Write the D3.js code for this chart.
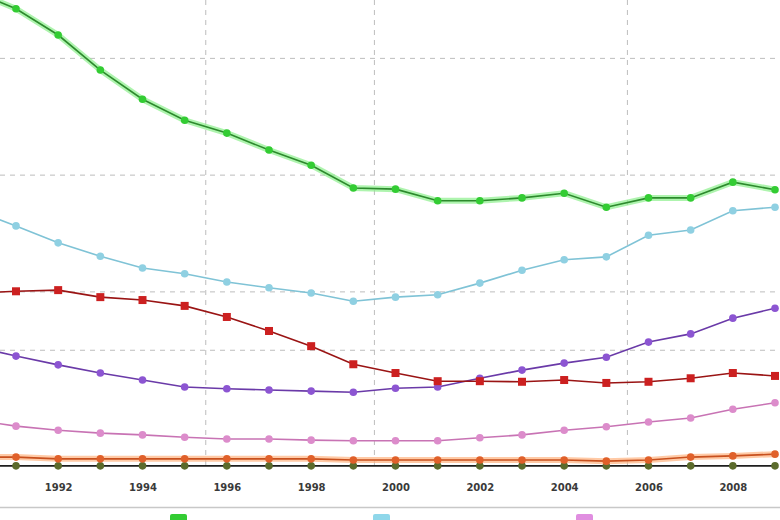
<!DOCTYPE html>
<html>
<head>
<meta charset="utf-8">
<script src="https://cdn.jsdelivr.net/npm/d3@7"></script>
<style>
  body { margin: 0; background: #fff; }
  svg { display: block; }
</style>
</head>
<body>
<svg id="chart" width="780" height="520"></svg>
<script>
// years shown (1990 sits just left of the visible frame)
var years = [1990,1991,1992,1993,1994,1995,1996,1997,1998,1999,2000,2001,2002,2003,2004,2005,2006,2007,2008,2009];

var greenVals  = [81.5,78.5,74.0,68.0,63.0,59.4,57.2,54.3,51.7,47.8,47.6,45.6,45.6,46.1,46.9,44.5,46.1,46.1,48.8,47.5];
var cyanVals   = [44.0,41.3,38.4,36.1,34.1,33.1,31.7,30.7,29.8,28.4,29.1,29.5,31.5,33.7,35.5,36.0,39.7,40.6,43.9,44.5];
var redVals    = [29.8,30.1,30.3,29.1,28.6,27.6,25.7,23.3,20.7,17.6,16.1,14.7,14.7,14.6,14.9,14.4,14.6,15.2,16.1,15.6];
var purpleVals = [20.7,19.0,17.5,16.1,14.9,13.7,13.4,13.2,13.0,12.8,13.5,13.7,15.2,16.6,17.8,18.8,21.4,22.8,25.5,27.2];
var pinkVals   = [8.1,7.0,6.3,5.8,5.5,5.1,4.8,4.8,4.6,4.5,4.5,4.5,5.0,5.5,6.3,6.9,7.7,8.4,9.9,11.0];
var orangeVals = [1.7,1.7,1.4,1.4,1.4,1.4,1.4,1.4,1.4,1.2,1.2,1.2,1.2,1.2,1.2,1.0,1.2,1.7,1.9,2.2];
var darkVals   = [0.2,0.2,0.2,0.2,0.2,0.2,0.2,0.2,0.2,0.2,0.2,0.2,0.2,0.2,0.2,0.2,0.2,0.2,0.2,0.2];

var tickYears = [1992,1994,1996,1998,2000,2002,2004,2006,2008];
var hGrid = [20,30,50,70];
var vGrid = [1995.5,1999.5,2005.5];

var series = [
  {vals: darkVals,   line: "#1e1e1e", dot: "#5b6b2c", glow: null,      shape: "circle"},
  {vals: orangeVals, line: "#c8501e", dot: "#e0602a", glow: "#ffb380", shape: "circle"},
  {vals: pinkVals,   line: "#c873b4", dot: "#dc8ccb", glow: null,      shape: "circle"},
  {vals: purpleVals, line: "#6a3aa8", dot: "#8c55d2", glow: null,      shape: "circle"},
  {vals: redVals,    line: "#9a1414", dot: "#cc2020", glow: null,      shape: "square"},
  {vals: cyanVals,   line: "#7fc3d6", dot: "#8fd0e2", glow: null,      shape: "circle"},
  {vals: greenVals,  line: "#2d8a2d", dot: "#33cc33", glow: "#8cf08c", shape: "circle"}
];

var legendColors = ["#33cc33", "#8fd7ea", "#e08ee0"];
var legendX = [170, 373, 576];

var svg = d3.select("#chart");

var x = d3.scaleLinear().domain([1991, 2009]).range([16, 775]);
var y = d3.scaleLinear().domain([0, 80]).range([467, 0]);

// grid
svg.append("g").selectAll("line").data(hGrid).enter().append("line")
  .attr("x1", 0).attr("x2", 780)
  .attr("y1", function(d){ return y(d); }).attr("y2", function(d){ return y(d); })
  .attr("stroke", "#bdbdbd").attr("stroke-dasharray", "5,5");

svg.append("g").selectAll("line").data(vGrid).enter().append("line")
  .attr("x1", function(d){ return x(d); }).attr("x2", function(d){ return x(d); })
  .attr("y1", 0).attr("y2", 467)
  .attr("stroke", "#bdbdbd").attr("stroke-dasharray", "5,5");

var lineGen = function(vals){
  return d3.line()
    .x(function(d, i){ return x(years[i]); })
    .y(function(d){ return y(d); })(vals);
};

series.forEach(function(s){
  var g = svg.append("g");
  if (s.glow) {
    g.append("path").attr("d", lineGen(s.vals))
      .attr("fill", "none").attr("stroke", s.glow)
      .attr("stroke-width", 6).attr("stroke-opacity", 0.7)
      .attr("stroke-linejoin", "round");
  }
  g.append("path").attr("d", lineGen(s.vals))
    .attr("fill", "none").attr("stroke", s.line)
    .attr("stroke-width", 1.6);
  if (s.shape == "square") {
    g.selectAll("rect").data(s.vals).enter().append("rect")
      .attr("x", function(d, i){ return x(years[i]) - 4; })
      .attr("y", function(d){ return y(d) - 4; })
      .attr("width", 8).attr("height", 8)
      .attr("fill", s.dot);
  } else {
    g.selectAll("circle").data(s.vals).enter().append("circle")
      .attr("cx", function(d, i){ return x(years[i]); })
      .attr("cy", function(d){ return y(d); })
      .attr("r", 3.8)
      .attr("fill", s.dot);
  }
});

// x axis labels
var xAxis = d3.axisBottom(x).tickValues(tickYears).tickFormat(d3.format("d")).tickSize(0).tickPadding(0);
var ax = svg.append("g").attr("transform", "translate(0,484)").call(xAxis);
ax.select(".domain").remove();
ax.selectAll("text")
  .attr("font-family", "DejaVu Sans, sans-serif")
  .attr("font-size", 10).attr("font-weight", "bold")
  .attr("fill", "#3a3a3a");

// separator
svg.append("line").attr("x1", 0).attr("x2", 780).attr("y1", 507.5).attr("y2", 507.5)
  .attr("stroke", "#c8c8c8").attr("stroke-width", 1.5);

// legend symbols (labels fall below the frame)
svg.append("g").selectAll("rect").data(legendColors).enter().append("rect")
  .attr("x", function(d, i){ return legendX[i]; })
  .attr("y", 514).attr("width", 17).attr("height", 12)
  .attr("rx", 2)
  .attr("fill", function(d){ return d; });
</script>
</body>
</html>
